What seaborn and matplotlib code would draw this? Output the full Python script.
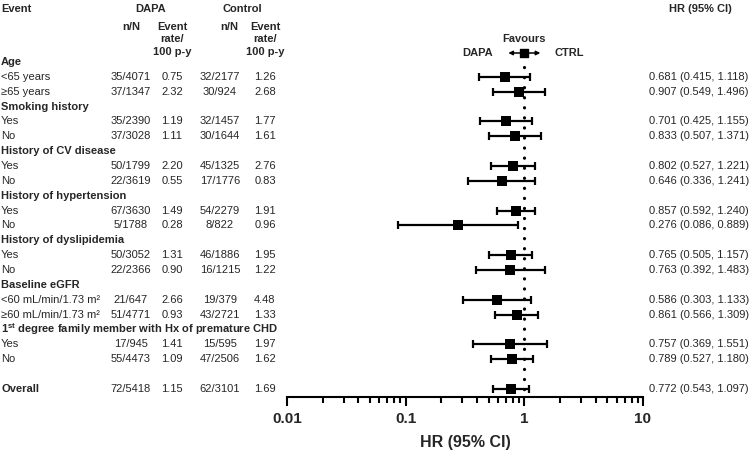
import numpy as np
import pandas as pd
import matplotlib
matplotlib.use("Agg")
import matplotlib.pyplot as plt
import matplotlib.transforms as mtransforms
from matplotlib.ticker import FixedLocator, NullFormatter, FixedFormatter, LogLocator
import seaborn as sns

# ---------------- data ----------------
labels = ["Age", "<65 years", "≥65 years",
          "Smoking history", "Yes", "No",
          "History of CV disease", "Yes", "No",
          "History of hypertension", "Yes", "No",
          "History of dyslipidemia", "Yes", "No",
          "Baseline eGFR", "<60 mL/min/1.73 m²", "≥60 mL/min/1.73 m²",
          r"1$^{\mathbf{st}}$ degree family member with Hx of premature CHD", "Yes", "No",
          "", "Overall"]
bold_rows = [True, False, False, True, False, False, True, False, False,
             True, False, False, True, False, False, True, False, False,
             True, False, False, False, True]
dapa_nN = ["", "35/4071", "37/1347", "", "35/2390", "37/3028", "", "50/1799", "22/3619",
           "", "67/3630", "5/1788", "", "50/3052", "22/2366", "", "21/647", "51/4771",
           "", "17/945", "55/4473", "", "72/5418"]
dapa_rate = ["", "0.75", "2.32", "", "1.19", "1.11", "", "2.20", "0.55",
             "", "1.49", "0.28", "", "1.31", "0.90", "", "2.66", "0.93",
             "", "1.41", "1.09", "", "1.15"]
ctrl_nN = ["", "32/2177", "30/924", "", "32/1457", "30/1644", "", "45/1325", "17/1776",
           "", "54/2279", "8/822", "", "46/1886", "16/1215", "", "19/379", "43/2721",
           "", "15/595", "47/2506", "", "62/3101"]
ctrl_rate = ["", "1.26", "2.68", "", "1.77", "1.61", "", "2.76", "0.83",
             "", "1.91", "0.96", "", "1.95", "1.22", "", "4.48", "1.33",
             "", "1.97", "1.62", "", "1.69"]
hr = [np.nan, 0.681, 0.907, np.nan, 0.701, 0.833, np.nan, 0.802, 0.646,
      np.nan, 0.857, 0.276, np.nan, 0.765, 0.763, np.nan, 0.586, 0.861,
      np.nan, 0.757, 0.789, np.nan, 0.772]
lo = [np.nan, 0.415, 0.549, np.nan, 0.425, 0.507, np.nan, 0.527, 0.336,
      np.nan, 0.592, 0.086, np.nan, 0.505, 0.392, np.nan, 0.303, 0.566,
      np.nan, 0.369, 0.527, np.nan, 0.543]
hi = [np.nan, 1.118, 1.496, np.nan, 1.155, 1.371, np.nan, 1.221, 1.241,
      np.nan, 1.240, 0.889, np.nan, 1.157, 1.483, np.nan, 1.133, 1.309,
      np.nan, 1.551, 1.180, np.nan, 1.097]
xticks = [0.01, 0.1, 1, 10]
xtick_labels = ["0.01", "0.1", "1", "10"]

# ---------------- style ----------------
sns.set_theme(style="white")
plt.rcParams["font.family"] = ["Liberation Sans", "DejaVu Sans"]
plt.rcParams["mathtext.fontset"] = "custom"
plt.rcParams["mathtext.rm"] = "Liberation Sans"
plt.rcParams["mathtext.it"] = "Liberation Sans:italic"
plt.rcParams["mathtext.bf"] = "Liberation Sans:bold"

W, H = 752, 450
fig = plt.figure(figsize=(W / 100, H / 100), dpi=100)
fig.patch.set_facecolor("white")

ROW0, DY = 62.0, 14.86   # pixel y of first row and row spacing
AX_BOTTOM = 396.5
def r(p):
    return (p - ROW0) / DY

ax = fig.add_axes([287 / W, 1 - AX_BOTTOM / H, (643 - 287) / W, AX_BOTTOM / H])
ax.set_xscale("log")
ax.set_facecolor("none")

n = len(labels)
df = pd.DataFrame({"row": np.arange(n), "hr": hr, "lo": lo, "hi": hi})
pdf = df.dropna()

# reference dotted line at HR = 1
ax.plot([1, 1], [r(67), r(AX_BOTTOM) - 0.2], color="black", lw=2.3,
        linestyle=(0, (0.05, 3.1)), dash_capstyle="round", zorder=1)

ax.errorbar(pdf["hr"], pdf["row"], xerr=[pdf["hr"] - pdf["lo"], pdf["hi"] - pdf["hr"]],
            fmt="none", ecolor="black", elinewidth=1.6, capsize=3.0, capthick=1.6, zorder=2)
sns.scatterplot(data=pdf, x="hr", y="row", marker="s", s=44, color="black",
                edgecolor="black", linewidth=0, ax=ax, zorder=3, legend=False)

ax.set_xlim(0.01, 10)
ax.set_ylim(r(AX_BOTTOM), r(0))
ax.set_yticks([])
ax.set_ylabel("")
for s in ["top", "right", "left"]:
    ax.spines[s].set_visible(False)
ax.spines["bottom"].set_linewidth(1.5)
ax.spines["bottom"].set_color("black")
ax.xaxis.set_major_locator(FixedLocator(xticks))
ax.xaxis.set_major_formatter(FixedFormatter(xtick_labels))
ax.xaxis.set_minor_locator(LogLocator(base=10, subs=np.arange(2, 10)))
ax.xaxis.set_minor_formatter(NullFormatter())
ax.tick_params(axis="x", which="major", direction="out", length=6.5, width=1.5,
               color="black", pad=5, labelsize=11, bottom=True)
ax.tick_params(axis="x", which="minor", direction="out", length=4, width=1.5,
               color="black", bottom=True)
for t in ax.get_xticklabels():
    t.set_fontweight("bold")
ax.set_xlabel("HR (95% CI)", fontsize=11.5, fontweight="bold", labelpad=6)

# ---------------- table text ----------------
tr = mtransforms.blended_transform_factory(fig.transFigure, ax.transData)
FS = 8
def put(xpx, y, s, ha="center", bold=False, va="center", fs=FS, **kw):
    ax.text(xpx / W, y, s, transform=tr, ha=ha, va=va, fontsize=fs,
            fontweight="bold" if bold else "normal", clip_on=False, **kw)

# headers
put(1, r(9), "Event", ha="left", bold=True)
put(151, r(9), "DAPA", bold=True)
put(242, r(9), "Control", bold=True)
put(131, r(27), "n/N", bold=True)
put(229, r(27), "n/N", bold=True)
put(172, r(22), "Event\nrate/\n100 p-y", bold=True, va="top", linespacing=1.3)
put(265, r(22), "Event\nrate/\n100 p-y", bold=True, va="top", linespacing=1.3)
put(700, r(9), "HR (95% CI)", bold=True)

# favours
put(524, r(39), "Favours", bold=True)
put(478, r(53), "DAPA", bold=True)
put(569, r(53), "CTRL", bold=True)
yf = r(53)
for xe in (0.733, 1.364):
    ax.annotate("", xy=(xe, yf), xytext=(1, yf), xycoords="data",
                arrowprops=dict(arrowstyle="-|>", lw=1.1, color="black",
                                mutation_scale=6, shrinkA=0, shrinkB=0),
                annotation_clip=False)
ax.scatter([1], [yf], marker="s", s=36, color="black", zorder=4, clip_on=False)

for i in range(n):
    put(1, i, labels[i], ha="left", bold=bold_rows[i])
    if dapa_nN[i]:
        put(131, i, dapa_nN[i])
        put(172, i, dapa_rate[i])
        put(220, i, ctrl_nN[i])
        put(265, i, ctrl_rate[i])
    if not np.isnan(hr[i]):
        put(699, i, f"{hr[i]:.3f} ({lo[i]:.3f}, {hi[i]:.3f})")

fig.savefig("out.png", dpi=100, facecolor="white")
